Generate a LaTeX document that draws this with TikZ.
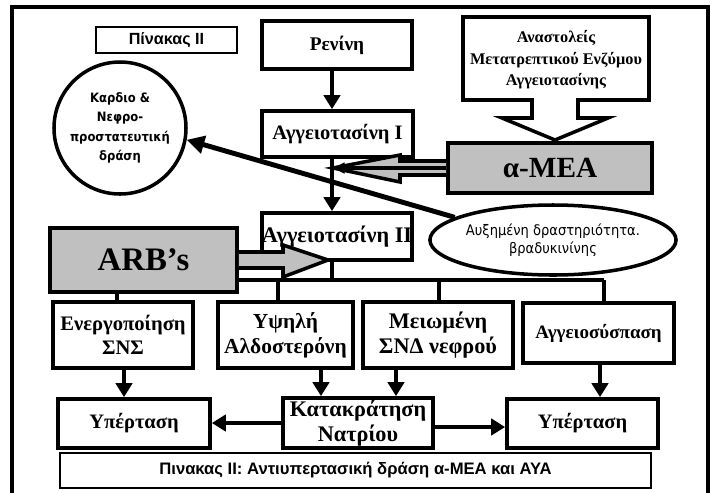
\documentclass[tikz,border=0pt]{standalone}
\usepackage{fontspec}
\setmainfont{Liberation Serif}
\setsansfont{Liberation Sans}
\newfontfamily\dejavu{DejaVu Sans Condensed}
\usetikzlibrary{arrows.meta,shapes.geometric}
\definecolor{shade}{HTML}{C0C0C0}
\newcommand{\fs}[1]{\bfseries\fontsize{#1}{1.15\dimexpr#1pt\relax}\selectfont}

\begin{document}
\begin{tikzpicture}[x=.03cm,y=-.03cm,line join=miter,
  box/.style={draw,line width=3.2pt,fill=white,inner sep=0pt,align=center,font=\fs{17.5}},
  lbl/.style={draw,line width=2.5pt,fill=white,inner sep=0pt,
    font=\sffamily\bfseries\fontsize{13.8}{16}\selectfont},
  arr/.style={line width=3pt,-{Triangle[length=12pt,width=14pt]}},
  blk/.style={draw,line width=3pt,fill=shade}]
\useasboundingbox (0,0) rectangle (714,492);
\draw[line width=2.8pt] (12,495) -- (12,7) -- (708,7) -- (708,495);
\coordinate (trunk) at (332,0);

% upper chain
\node[lbl,minimum width=4.23cm,minimum height=.78cm] (pin) at (166.5,40) {Πίνακας ΙΙ};
\node[box,minimum width=4.5cm,minimum height=1.44cm,font=\fs{16.5}] (renin) at (337,45) {Ρενίνη};
\node[box,minimum width=4.53cm,minimum height=1.38cm] (angI) at (337.5,134) {Αγγειοτασίνη Ι};
\node[box,minimum width=4.5cm,minimum height=1.41cm,font=\fs{19}] (angII) at (337,236.5)
  {Αγγειοτασίνη ΙΙ};
\draw[arr] (renin.south -| trunk) -- (angI.north -| trunk);
\draw[arr] (angI.south -| trunk) -- (angII.north -| trunk);

% inhibitors and ACE-I
\filldraw[fill=white,line width=3pt] (463,17) -- (649,17) -- (649,100) -- (578,100) -- (578,118)
  -- (608,118) -- (555,140) -- (502,118) -- (532,118) -- (532,100) -- (463,100) -- cycle;
\node[align=center,font=\bfseries\fontsize{13.9}{18.5}\selectfont] (inhib) at (556,60)
  {Αναστολείς\\Μετατρεπτικού Ενζύμου\\Αγγειοτασίνης};
\node[box,fill=shade,minimum width=6.12cm,minimum height=1.5cm,font=\fs{25}] (amea)
  at (550,168) {α-ΜΕΑ};
\coordinate (tipI) at (333,168);
\draw[blk] (amea.west |- 0,161) -- (400,161) -- (400,155) -- (tipI) -- (400,182) -- (400,175)
  -- (amea.west |- 0,175);
\draw[line width=2.8pt,-{Triangle[length=10pt,width=9pt]}] (amea.west) -- (tipI);

% protective action
\node[draw,circle,line width=3pt,minimum size=3.96cm,inner sep=0pt,align=center,
  font=\dejavu\bfseries\fontsize{11}{16.5}\selectfont] (circ) at (120,128)
  {Καρδιο \&\\Νεφρο-\\προστατευτική\\δράση};
\node[draw,ellipse,line width=3pt,minimum width=6.24cm,minimum height=2.1cm,inner sep=0pt,
  align=center,font=\dejavu\fontsize{12.4}{15.5}\selectfont] (ell) at (553,240)
  {Αυξημένη δραστηριότητα.\\βραδυκινίνης};
\draw[line width=4.2pt,-{Triangle[length=15pt,width=15pt]}] (ell.167) -- (circ.-10);

% distribution to the effects
\coordinate (bar) at (0,280);
\draw[line width=3pt] (angII.south -| trunk) -- (bar -| trunk);
\draw[line width=3pt] (117,280) -- (604,280);
\node[box,minimum width=4.2cm,minimum height=1.98cm,font=\fs{17.6}] (b1) at (123,335)
  {Ενεργοποίηση\\ΣΝΣ};
\node[box,minimum width=4.05cm,minimum height=1.98cm,font=\fs{18.3}] (b2) at (285.5,335)
  {Υψηλή\\Αλδοστερόνη};
\node[box,minimum width=4.5cm,minimum height=1.98cm,font=\fs{19}] (b3) at (438,335)
  {Μειωμένη\\ΣΝΔ νεφρού};
\node[box,minimum width=4.53cm,minimum height=1.8cm,font=\fs{16.2}] (b4) at (598.5,333)
  {Αγγειοσύσπαση};
\foreach \x/\n in {117/b1,278/b2,439/b3,604/b4}
  \draw[line width=3pt] (\x,280) -- (\n.north -| \x,0);

% ARB's
\node[box,fill=shade,minimum width=5.61cm,minimum height=1.92cm,font=\fs{28}] (arb)
  at (143.5,260) {ARB’s};
\coordinate (tipII) at (328,260);
\draw[blk] (arb.east |- 0,252) -- (283,252) -- (283,245) -- (tipII) -- (283,277) -- (283,268)
  -- (arb.east |- 0,268);

% outcomes
\node[box,minimum width=4.56cm,minimum height=1.47cm,font=\fs{17.5}] (hyp1) at (134,423.5)
  {Υπέρταση};
\node[box,minimum width=4.5cm,minimum height=1.5cm,font=\fs{19}] (natr) at (358,423)
  {Κατακράτηση\\Νατρίου};
\node[box,minimum width=4.53cm,minimum height=1.47cm,font=\fs{17.5}] (hyp2) at (582.5,423.5)
  {Υπέρταση};
\draw[arr] (b1.south -| 124,0) -- (hyp1.north -| 124,0);
\draw[arr] (b2.south -| 321,0) -- (natr.north -| 321,0);
\draw[arr] (b3.south -| 396,0) -- (natr.north -| 396,0);
\draw[arr] (b4.south -| 600,0) -- (hyp2.north -| 600,0);
\draw[arr] (natr.west |- 0,423) -- (hyp1.east |- 0,423);
\draw[arr] (natr.east |- 0,427) -- (hyp2.west |- 0,427);

\node[lbl,minimum width=17.73cm,minimum height=1.05cm,
  font=\sffamily\bfseries\fontsize{14.2}{16}\selectfont] (cap) at (355.5,470.5)
  {Πινακας ΙΙ: Αντιυπερτασική δράση α-ΜΕΑ και ΑΥΑ};
\end{tikzpicture}
\end{document}
